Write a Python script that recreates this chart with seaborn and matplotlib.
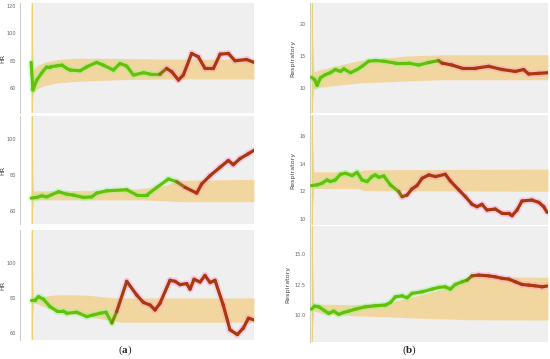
import numpy as np
import matplotlib
matplotlib.use("Agg")
import matplotlib.pyplot as plt
from matplotlib.collections import LineCollection
from matplotlib.colors import to_rgb
import seaborn as sns

# ---------- Data ----------

# (a) heart rate panels
hr1_t = [0, 0.75, 2.5, 4.8, 7.0, 8.5, 11.5, 13.8, 16.0, 17.5, 22.0, 25.0, 29.4, 32.4, 36.9, 39.9,
         42.9, 45.9, 50.4, 53.4, 57.8, 60.8, 63.1, 66.1, 68.3, 72.0, 75.0, 78.0, 81.8, 84.8, 88.5,
         91.5, 96.7, 100]
hr1_v = [78.9, 58.8, 66.0, 71.4, 75.7, 75.7, 76.4, 76.9, 74.5, 73.3, 72.8, 75.7, 78.9, 76.9, 73.3, 78.1,
         76.2, 69.7, 71.4, 70.4, 70.4, 74.5, 72.1, 66.0, 69.7, 85.4, 83.0, 74.5, 74.5, 84.9, 85.4,
         80.1, 81.0, 78.9]
hr1_band_t = [0, 1, 3, 6, 12, 20, 40, 60, 100]
hr1_band_lo = [42, 57, 60, 62, 64, 65, 66.3, 66.8, 66.8]
hr1_band_hi = [122, 74, 77, 79, 81, 82, 81.8, 81.3, 81.3]

hr2_t = [0, 2.5, 4.8, 7.0, 12.3, 16.0, 19.0, 23.5, 27.2, 29.4, 33.9, 42.9, 47.4, 51.9, 56.4, 61.6,
         65.3, 69.1, 74.3, 76.5, 80.3, 84.8, 88.5, 90.7, 93.7, 97.5, 100]
hr2_v = [67.0, 67.4, 68.3, 67.7, 70.6, 69.2, 68.7, 67.4, 67.7, 69.8, 71.1, 71.7, 68.7, 68.7, 73.0, 77.7,
         76.2, 73.0, 69.8, 74.9, 79.6, 84.3, 88.1, 85.7, 89.1, 91.9, 93.8]
hr2_band_t = [0, 1, 40, 50, 60, 66, 100]
hr2_band_lo = [52, 66, 66, 66, 65.5, 65, 65]
hr2_band_hi = [114, 71, 71.5, 72.5, 74, 77, 77.5]

hr3_t = [0, 1.8, 3.3, 5.5, 8.5, 11.5, 14.5, 16.0, 20.5, 25.0, 28.0, 30.9, 33.6, 36.2, 38.4, 42.9,
         47.4, 50.4, 53.4, 55.6, 57.8, 62.3, 64.6, 66.8, 69.8, 71.3, 73.1, 75.8, 78.0, 80.3, 82.5,
         86.2, 89.2, 92.5, 95.2, 97.5, 100]
hr3_v = [78.9, 78.9, 80.8, 79.4, 75.1, 72.6, 72.6, 71.3, 71.9, 69.4, 70.4, 71.3, 71.9, 65.7, 72.3, 89.6,
         81.7, 77.5, 76.0, 73.2, 77.0, 90.2, 89.6, 87.7, 88.3, 85.1, 90.8, 89.2, 93.0, 88.9, 90.2,
         76.0, 61.9, 59.1, 62.8, 68.5, 67.5]
hr3_band_t = [0, 1, 8, 12, 25, 37, 40, 100]
hr3_band_lo = [56, 77.5, 74, 72.5, 69.5, 67, 66.2, 66.2]
hr3_band_hi = [119, 79.5, 81.5, 82, 81.7, 80.2, 80.1, 80.1]

# (b) respiratory panels
rr1_t = [0, 1.4, 2.4, 3.8, 5.9, 8.0, 10.1, 12.3, 13.7, 16.5, 19.3, 21.4, 24.2, 27.0, 30.6, 35.5,
         41.1, 45.4, 49.6, 53.8, 55.2, 59.4, 63.7, 69.3, 74.9, 80.6, 86.2, 89.7, 91.8, 96.1, 100]
rr1_v = [11.7, 11.3, 10.4, 11.6, 12.1, 12.4, 12.9, 12.6, 13.0, 12.4, 12.9, 13.4, 14.2, 14.3, 14.2, 13.9,
         13.9, 13.6, 14.0, 14.3, 13.9, 13.6, 13.1, 13.1, 13.4, 12.9, 12.6, 12.9, 12.2, 12.3, 12.4]
rr1_band_t = [0, 1, 3, 20, 40, 55, 100]
rr1_band_lo = [6, 9.8, 10.1, 10.8, 11.1, 11.3, 11.3]
rr1_band_hi = [23.3, 12.5, 12.8, 14.3, 15.0, 15.2, 15.2]

rr2_t = [0, 2.4, 4.5, 6.6, 8.0, 10.1, 12.3, 14.4, 17.2, 19.3, 21.4, 23.5, 25.6, 27.0, 28.5, 30.6,
         33.4, 36.9, 38.3, 40.4, 42.5, 44.6, 46.8, 49.6, 52.4, 56.6, 58.7, 62.3, 65.1, 67.9, 70.0,
         72.1, 74.2, 77.7, 80.6, 83.4, 84.8, 86.9, 89.0, 93.2, 96.1, 98.2, 99.6]
rr2_v = [12.41, 12.46, 12.58, 12.82, 12.70, 12.82, 13.23, 13.30, 13.13, 13.37, 12.82, 12.70, 13.06,
         13.18, 13.01, 13.11, 12.46, 11.98, 11.61, 11.73, 12.17, 12.41, 12.94, 13.18, 13.06, 13.23,
         12.75, 12.10, 11.61, 11.06, 10.89, 11.06, 10.65, 10.72, 10.41, 10.41, 10.24, 10.65, 11.30,
         11.37, 11.20, 10.89, 10.48]
rr2_band_t = [0, 1, 20, 22, 100]
rr2_band_lo = [9.6, 12.2, 12.2, 12.05, 12.0]
rr2_band_hi = [17.5, 13.4, 13.4, 13.55, 13.6]

rr3_t = [0, 1.4, 3.1, 5.2, 7.3, 9.4, 11.5, 13.7, 15.8, 18.6, 22.8, 27.0, 31.3, 33.4, 35.5, 38.3,
         40.4, 42.5, 46.8, 51.0, 53.8, 56.6, 58.7, 60.8, 63.7, 65.8, 67.9, 70.7, 74.9, 77.7, 80.6,
         83.4, 86.2, 89.0, 91.8, 94.6, 97.5, 99.6]
rr3_v = [10.49, 10.74, 10.68, 10.41, 10.14, 10.33, 10.06, 10.22, 10.33, 10.49, 10.68, 10.77, 10.82,
         11.04, 11.50, 11.58, 11.42, 11.78, 11.91, 12.13, 12.27, 12.32, 12.13, 12.51, 12.73, 12.87,
         13.22, 13.28, 13.22, 13.14, 13.01, 12.95, 12.73, 12.51, 12.46, 12.40, 12.32, 12.38]
rr3_band_t = [0, 1, 5, 18, 33, 45, 55, 67, 100]
rr3_band_lo = [7.8, 10.35, 10.1, 9.95, 9.85, 9.75, 9.7, 9.62, 9.6]
rr3_band_hi = [17.2, 10.9, 10.9, 10.85, 11.05, 11.6, 12.1, 13.15, 13.1]

# point in time where the series switches from normal (green) to anomalous (red)
switch_t = {"hr1": 59, "hr2": 67, "hr3": 38, "rr1": 54, "rr2": 37.5, "rr3": 67}

# ---------- Style ----------

sns.set_style("white")
plt.rcParams["font.family"] = ["DejaVu Sans"]

GREEN = "#66bf0a"
RED = "#a9380f"
BAND = "#f5c66a"
BG = "#efefef"

fig = plt.figure(figsize=(5.5, 3.59), dpi=100)
W, H = 550, 359


def make_ax(left, right, top, bottom):
    return fig.add_axes([left / W, 1 - bottom / H, (right - left) / W, (bottom - top) / H])


def draw_panel(ax, t, v, bt, blo, bhi, sw, xmin, ylim, yticks, yfmt, ylabel, lpad):
    ax.set_facecolor("white")
    ax.axvspan(0, 100, color=BG, lw=0, zorder=0)
    ax.fill_between(bt, blo, bhi, color=BAND, alpha=0.6, lw=0, zorder=1)
    ax.axvline(0.2, color="#e8d27a", lw=0.8, zorder=1)

    t = np.asarray(t, float)
    v = np.asarray(v, float)
    pts = np.column_stack([t, v]).reshape(-1, 1, 2)
    segs = np.concatenate([pts[:-1], pts[1:]], axis=1)
    mid = (t[:-1] + t[1:]) / 2
    frac = np.clip((mid - (sw - 3)) / 6, 0, 1)[:, None]
    g, r = np.array(to_rgb(GREEN)), np.array(to_rgb(RED))
    cols = g * (1 - frac) + r * frac

    # soft highlight under the line
    glow = np.where(frac > 0.5, np.array([1.0, 0.55, 0.8]), np.array([0.5, 1.0, 0.5]))
    glow = np.column_stack([glow, np.full(len(glow), 0.25)])
    ax.add_collection(LineCollection(segs, colors=glow, linewidths=5.0, capstyle="round",
                                     joinstyle="round", zorder=2))
    ax.add_collection(LineCollection(segs, colors=cols, linewidths=2.3, capstyle="round",
                                     joinstyle="round", zorder=3))

    ax.set_xlim(xmin, 100)
    ax.set_ylim(*ylim)
    ax.set_xticks([])
    ax.set_yticks(yticks)
    ax.set_yticklabels([yfmt.format(y) for y in yticks])
    ax.tick_params(axis="y", length=0, pad=3, labelsize=3.6, labelcolor="#666666")
    ax.set_ylabel(ylabel, fontsize=4.6, color="#444444", labelpad=lpad)
    for s in ["top", "right", "bottom"]:
        ax.spines[s].set_visible(False)
    ax.spines["left"].set_color("#cfcfcf")
    ax.spines["left"].set_linewidth(0.8)


# left column (a)
ax1 = make_ax(20, 254, 3, 113)
draw_panel(ax1, hr1_t, hr1_v, hr1_band_t, hr1_band_lo, hr1_band_hi, switch_t["hr1"],
           -5, (42, 122.2), [60, 80, 100, 120], "{:d}", "HR", 0.5)
ax2 = make_ax(20, 254, 116, 224)
draw_panel(ax2, hr2_t, hr2_v, hr2_band_t, hr2_band_lo, hr2_band_hi, switch_t["hr2"],
           -5, (52.5, 113), [60, 80, 100], "{:d}", "HR", 0.5)
ax3 = make_ax(20, 254, 230, 340)
draw_panel(ax3, hr3_t, hr3_v, hr3_band_t, hr3_band_lo, hr3_band_hi, switch_t["hr3"],
           -5, (56, 119), [60, 80, 100], "{:d}", "HR", 0.5)

# right column (b)
ax4 = make_ax(310, 548, 3, 113)
draw_panel(ax4, rr1_t, rr1_v, rr1_band_t, rr1_band_lo, rr1_band_hi, switch_t["rr1"],
           -0.6, (6.1, 23.3), [10, 15, 20], "{:d}", "Respiratory", 3)
ax5 = make_ax(310, 548, 115, 225)
draw_panel(ax5, rr2_t, rr2_v, rr2_band_t, rr2_band_lo, rr2_band_hi, switch_t["rr2"],
           -0.6, (9.57, 17.5), [10, 12, 14, 16], "{:d}", "Respiratory", 3)
ax6 = make_ax(310, 548, 226, 342)
draw_panel(ax6, rr3_t, rr3_v, rr3_band_t, rr3_band_lo, rr3_band_hi, switch_t["rr3"],
           -0.6, (7.8, 17.3), [10.0, 12.5, 15.0], "{:.1f}", "Respiratory", 3)

# captions
plt.rcParams["mathtext.fontset"] = "custom"
plt.rcParams["mathtext.bf"] = "Liberation Serif:bold"
fig.text(125 / W, 1 - 350 / H, r"($\mathbf{a}$)", family="Liberation Serif", fontsize=8,
         ha="center", va="center")
fig.text(410 / W, 1 - 350 / H, r"($\mathbf{b}$)", family="Liberation Serif", fontsize=8,
         ha="center", va="center")

fig.savefig("out.png", dpi=100)
